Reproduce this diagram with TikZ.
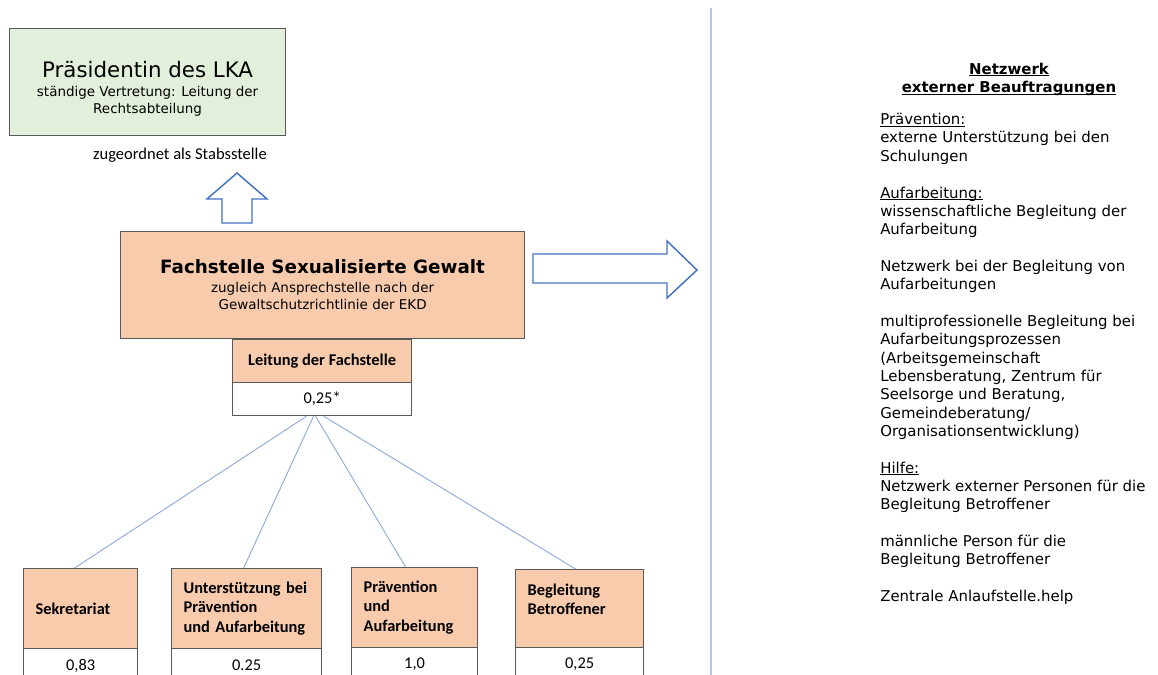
\documentclass[tikz,border=0pt]{standalone}
\usepackage{fontspec}
\setmainfont{DejaVu Sans}
\newfontfamily\calibri{Carlito}
\usetikzlibrary{positioning}
\definecolor{peach}{HTML}{F8CBAD}
\definecolor{mint}{HTML}{E2EFDA}
\definecolor{frame}{HTML}{595959}
\definecolor{arrowblue}{HTML}{4472C4}
\definecolor{linkblue}{HTML}{8FAADC}
\definecolor{rulegray}{HTML}{B4C7E7}
\def\px{0.75pt}
% underline close to the baseline, through the descenders
\newcommand\ulin[1]{\setbox0\hbox{#1}\rlap{\rule[-1.5pt]{\wd0}{0.6pt}}\box0}

\begin{document}
\begin{tikzpicture}[x=0.75pt, y=-0.75pt,
  box/.style={draw=frame, line width=0.9pt, inner sep=0pt, anchor=north west},
  unit/.style={box, fill=peach, font=\calibri\bfseries\fontsize{12.3}{14.5}\selectfont,
    align=left, inner xsep=12*\px, text width=#1*\px-24*\px, minimum width=#1*\px},
  val/.style={box, fill=white, font=\calibri\fontsize{12.3}{15}\selectfont, minimum width=#1*\px},
  blockarrow/.style={draw=arrowblue, line width=1.1pt, fill=white, line join=miter},
  link/.style={draw=linkblue, line width=0.7pt}]
\useasboundingbox (0,0) rectangle (1158,675);
% top: Praesidentin
\node[box, fill=mint, minimum width=276*\px, minimum height=107*\px] (lka) at (9,28) {};
\node[align=center, font=\fontsize{10.1}{12.75}\selectfont] (lkatext) at ([yshift=-5pt]lka.center)
  {{\fontsize{16}{19}\selectfont Präsidentin des LKA}\\[1.5pt]
   ständige Vertretung: Leitung der\\ Rechtsabteilung};
\node[font=\calibri\fontsize{12.4}{14}\selectfont] (stab) at (180,155) {zugeordnet als Stabsstelle};
% Fachstelle
\node[box, fill=peach, minimum width=404*\px, minimum height=107*\px, align=center,
  font=\fontsize{10.1}{13}\selectfont] (fach) at (120,231)
  {{\bfseries\fontsize{13.75}{16}\selectfont Fachstelle Sexualisierte Gewalt}\\[1pt]
   zugleich Ansprechstelle nach der\\ Gewaltschutzrichtlinie der EKD};
\draw[blockarrow] (222,223) -- (222,199) -- (207,199) -- (237,173) -- (267,199)
  -- (252,199) -- (252,223) -- cycle;
\draw[blockarrow] (533,254) -- (667,254) -- (667,241) -- (697,270) -- (667,298)
  -- (667,283) -- (533,283) -- cycle;
% Leitung
\node[box, fill=peach, minimum width=179*\px, minimum height=43*\px,
  font=\calibri\bfseries\fontsize{12.3}{14.5}\selectfont] (lt) at (232,339) {Leitung der Fachstelle};
\node[val=179, minimum height=33*\px] (lv) at (232,382) {0,25*};
% bottom units
\node[unit=114, minimum height=80*\px] (sek) at (23,568) {Sekretariat};
\node[unit=150, minimum height=80*\px] (unt) at (171,568) {Unterstützung bei\\Prävention\\und Aufarbeitung};
\node[unit=126, minimum height=80*\px] (prae) at (351,567) {Prävention\\und\\Aufarbeitung};
\node[unit=128, minimum height=78*\px] (begl) at (515,569) {Begleitung\\Betroffener\\\mbox{}};
\node[val=114, minimum height=34*\px] (sekv) at (23,648) {0,83};
\node[val=150, minimum height=34*\px] (untv) at (171,648) {0.25};
\node[val=126, minimum height=34*\px] (praev) at (351,647) {1,0};
\node[val=128, minimum height=34*\px] (beglv) at (515,647) {0,25};
\foreach \u/\a/\b in {sek/-11.6/-4.5, unt/-6.4/-2.25, prae/-4.9/-6.75, begl/1.1/-3}
  \draw[link] ([xshift=\a pt]lv.south) -- ([xshift=\b pt]\u.north);
% divider
\draw[rulegray, line width=0.8pt] (711,8) -- (711,675);
% Netzwerk
\node[anchor=north, align=center, font=\bfseries\fontsize{11.2}{13.76}\selectfont] (netztitel) at (1009,58)
  {\ulin{Netzwerk}\\\ulin{externer Beauftragungen}};
\node[anchor=north west, inner sep=0pt, align=left, font=\fontsize{11.2}{13.76}\selectfont] (netz) at (880,113)
  {\ulin{Prävention:}\\
   externe Unterstützung bei den\\
   Schulungen\\[13.76pt]
   \ulin{Aufarbeitung:}\\
   wissenschaftliche Begleitung der\\
   Aufarbeitung\\[13.76pt]
   Netzwerk bei der Begleitung von\\
   Aufarbeitungen\\[13.76pt]
   multiprofessionelle Begleitung bei\\
   Aufarbeitungsprozessen\\
   (Arbeitsgemeinschaft\\
   Lebensberatung, Zentrum für\\
   Seelsorge und Beratung,\\
   Gemeindeberatung/\\
   Organisationsentwicklung)\\[13.76pt]
   \ulin{Hilfe:}\\
   Netzwerk externer Personen für die\\
   Begleitung Betroffener\\[13.76pt]
   männliche Person für die\\
   Begleitung Betroffener\\[13.76pt]
   Zentrale Anlaufstelle.help};
\end{tikzpicture}
\end{document}
